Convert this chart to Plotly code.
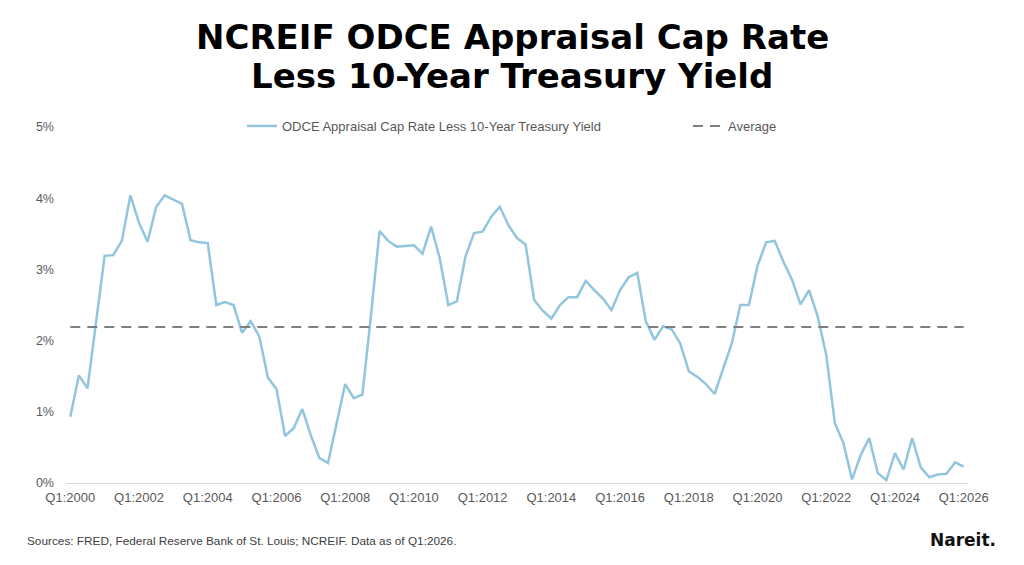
import plotly.graph_objects as go

# ---- data ----
spread = [0.93, 1.51, 1.33, 2.25, 3.19, 3.20, 3.40, 4.04, 3.65, 3.39,
          3.88, 4.04, 3.98, 3.92, 3.41, 3.38, 3.37, 2.50, 2.54, 2.50,
          2.11, 2.27, 2.06, 1.48, 1.32, 0.66, 0.77, 1.04, 0.67, 0.35,
          0.28, 0.84, 1.39, 1.19, 1.24, 2.35, 3.54, 3.40, 3.32, 3.33,
          3.34, 3.22, 3.60, 3.16, 2.50, 2.55, 3.18, 3.51, 3.53, 3.74,
          3.88, 3.62, 3.44, 3.35, 2.57, 2.42, 2.31, 2.50, 2.61, 2.61,
          2.84, 2.71, 2.59, 2.43, 2.71, 2.89, 2.95, 2.27, 2.01, 2.20,
          2.16, 1.96, 1.57, 1.49, 1.39, 1.25, 1.61, 1.96, 2.50, 2.50,
          3.05, 3.38, 3.40, 3.11, 2.86, 2.51, 2.71, 2.34, 1.80, 0.84,
          0.56, 0.05, 0.39, 0.63, 0.14, 0.04, 0.42, 0.19, 0.63, 0.22,
          0.08, 0.12, 0.13, 0.29, 0.23]
average = 2.19
start_year = 2000
quarters = [f"Q{q % 4 + 1}:{start_year + q // 4}" for q in range(len(spread))]
tick_idx = list(range(0, len(spread), 8))
tick_text = [quarters[i] for i in tick_idx]
y_ticks = [0, 1, 2, 3, 4, 5]
y_tick_text = [f"{v}%" for v in y_ticks]

x = list(range(len(spread)))

FONT = "Liberation Sans, Arial, sans-serif"
HEAVY = "DejaVu Sans, Liberation Sans, sans-serif"
GREY = "#595959"

fig = go.Figure()
fig.add_trace(go.Scatter(
    x=x, y=spread, mode="lines",
    name="ODCE Appraisal Cap Rate Less 10-Year Treasury Yield",
    line=dict(color="#92C5DE", width=2.5),
    hovertext=quarters, legend="legend",
))
fig.add_trace(go.Scatter(
    x=[x[0], x[-1]], y=[average, average], mode="lines",
    name="Average",
    line=dict(color="#7F7F7F", width=2, dash="10px,7px"),
    legend="legend2",
))

L, R, T, B = 66, 56, 127, 82
W, H = 1024, 565
ph = H - T - B
pw = W - L - R

def py(ypix):
    return (H - B - ypix) / ph

def px(xpix):
    return (xpix - L) / pw

leg_common = dict(
    orientation="h", yanchor="middle", xanchor="left",
    font=dict(family=FONT, size=13, color=GREY),
    bgcolor="rgba(0,0,0,0)", borderwidth=0,
)

fig.update_layout(
    width=W, height=H,
    margin=dict(l=L, r=R, t=T, b=B),
    paper_bgcolor="white", plot_bgcolor="white",
    font=dict(family=FONT, size=12, color=GREY),
    showlegend=True,
    legend=dict(x=px(242), y=py(126), **leg_common),
    legend2=dict(x=px(688), y=py(126), **leg_common),
    xaxis=dict(
        range=[-0.5, len(spread) - 0.5],
        tickmode="array", tickvals=tick_idx, ticktext=tick_text,
        showgrid=False, zeroline=False,
        showline=False, ticks="", ticklabelstandoff=5,
        tickfont=dict(family=FONT, size=13, color=GREY),
        fixedrange=True,
    ),
    yaxis=dict(
        range=[0, 5],
        tickmode="array", tickvals=y_ticks, ticktext=y_tick_text,
        showgrid=False, zeroline=True, zerolinecolor="#D9D9D9", zerolinewidth=1,
        showline=False, ticks="", ticklabelstandoff=11,
        tickfont=dict(family=FONT, size=12.5, color=GREY),
        fixedrange=True,
    ),
    annotations=[
        dict(text="<b>NCREIF ODCE Appraisal Cap Rate</b>", xref="paper", yref="paper",
             x=px(512), y=py(37), xanchor="center", yanchor="middle", showarrow=False,
             font=dict(family=HEAVY, size=34, color="#000000")),
        dict(text="<b>Less 10-Year Treasury Yield</b>", xref="paper", yref="paper",
             x=px(512), y=py(76), xanchor="center", yanchor="middle", showarrow=False,
             font=dict(family=HEAVY, size=34, color="#000000")),
        dict(text="Sources: FRED, Federal Reserve Bank of St. Louis; NCREIF. Data as of Q1:2026.",
             xref="paper", yref="paper", x=px(25), y=py(541), xanchor="left", yanchor="middle",
             showarrow=False, font=dict(family=FONT, size=11.8, color="#404040")),
        dict(text="<b>Nareit.</b>", xref="paper", yref="paper", x=px(998), y=py(540),
             xanchor="right", yanchor="middle", showarrow=False,
             font=dict(family=HEAVY, size=17, color="#111111")),
    ],
)

fig.write_html("out.html")
